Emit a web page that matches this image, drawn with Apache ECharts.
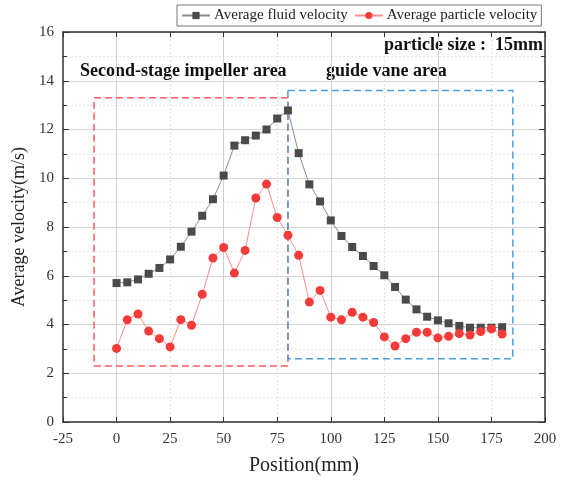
<!DOCTYPE html>
<html>
<head>
<meta charset="utf-8">
<script src="https://cdn.jsdelivr.net/npm/echarts@6/dist/echarts.min.js"></script>
<style>
  html, body { margin: 0; padding: 0; background: #fff; }
  #chart { width: 573px; height: 481px; }
</style>
</head>
<body>
<div id="chart"></div>
<script>
// Sampling positions along the flow passage (mm)
const positions = [0, 5, 10, 15, 20, 25, 30, 35, 40, 45, 50, 55, 60, 65, 70, 75, 80, 85, 90,
  95, 100, 105, 110, 115, 120, 125, 130, 135, 140, 145, 150, 155, 160, 165, 170, 175, 180];

// Average fluid velocity (m/s)
const fluidVelocity = [5.70, 5.73, 5.85, 6.08, 6.32, 6.67, 7.19, 7.81, 8.46, 9.14, 10.11, 11.34,
  11.56, 11.75, 12.00, 12.45, 12.78, 11.03, 9.75, 9.05, 8.27, 7.63, 7.18, 6.81, 6.40, 6.02,
  5.54, 5.02, 4.62, 4.32, 4.17, 4.05, 3.94, 3.87, 3.87, 3.87, 3.89];

// Average particle velocity (m/s)
const particleVelocity = [3.02, 4.19, 4.43, 3.73, 3.42, 3.08, 4.20, 3.97, 5.24, 6.73, 7.16, 6.11,
  7.04, 9.19, 9.76, 8.39, 7.66, 6.84, 4.92, 5.40, 4.30, 4.19, 4.50, 4.30, 4.08, 3.49, 3.12,
  3.42, 3.68, 3.68, 3.45, 3.52, 3.63, 3.57, 3.71, 3.82, 3.61];

// Region outlines: [xStart, yTop, xEnd, yBottom]
const impellerBox = [-10.5, 13.3, 80, 2.3];
const guideVaneBox = [80, 13.6, 185, 2.6];

// Solid grid lines at the major x positions
const majorX = [0, 50, 100, 150];

const serif = '"Liberation Serif", "Times New Roman", serif';
const frameColor = '#333';

const pair = (xs, ys) => xs.map((x, i) => [x, ys[i]]);

const chart = echarts.init(document.getElementById('chart'));

chart.setOption({
  backgroundColor: '#fff',
  animation: false,
  textStyle: { fontFamily: serif },
  grid: { left: 63, right: 28, top: 32, bottom: 58 },
  legend: {
    left: 177,
    top: 5,
    itemGap: 6,
    itemWidth: 28,
    itemHeight: 9,
    padding: [3, 4, 3, 4],
    borderColor: '#777',
    borderWidth: 1,
    borderRadius: 0,
    textStyle: { fontFamily: serif, fontSize: 15, color: '#222', padding: [0, 0, 0, -1] },
    data: ['Average fluid velocity', 'Average particle velocity']
  },
  xAxis: [
    {
      type: 'value',
      min: -25,
      max: 200,
      interval: 25,
      name: 'Position(mm)',
      nameLocation: 'middle',
      nameGap: 34,
      nameTextStyle: { fontFamily: serif, fontSize: 20, color: '#222' },
      axisLine: { show: true, onZero: false, lineStyle: { color: frameColor, width: 1.5 } },
      axisTick: { inside: true, length: 5, lineStyle: { color: frameColor } },
      axisLabel: { fontFamily: serif, fontSize: 15, color: '#333', margin: 10 },
      splitLine: { show: true, lineStyle: { color: '#e2e2e2', type: [2, 2], width: 1 } }
    },
    {
      type: 'value',
      position: 'top',
      min: -25,
      max: 200,
      interval: 25,
      axisLine: { show: true, onZero: false, lineStyle: { color: frameColor, width: 1.5 } },
      axisTick: { inside: true, length: 5, lineStyle: { color: frameColor } },
      axisLabel: { show: false },
      splitLine: { show: false }
    }
  ],
  yAxis: [
    {
      type: 'value',
      min: 0,
      max: 16,
      interval: 2,
      name: 'Average velocity(m/s)',
      nameLocation: 'middle',
      nameGap: 23,
      nameTextStyle: { fontFamily: serif, fontSize: 18, color: '#222' },
      axisLine: { show: true, onZero: false, lineStyle: { color: frameColor, width: 1.5 } },
      axisTick: { inside: true, length: 6, lineStyle: { color: frameColor } },
      minorTick: { show: true, splitNumber: 2, length: 4, lineStyle: { color: frameColor } },
      axisLabel: { fontFamily: serif, fontSize: 15, color: '#333', margin: 9 },
      splitLine: { show: true, lineStyle: { color: '#d6d6d6', width: 1 } },
      minorSplitLine: { show: true, lineStyle: { color: '#e6e6e6', type: [2, 2] } }
    },
    {
      type: 'value',
      position: 'right',
      min: 0,
      max: 16,
      interval: 2,
      axisLine: { show: true, onZero: false, lineStyle: { color: frameColor, width: 1.5 } },
      axisTick: { inside: true, length: 6, lineStyle: { color: frameColor } },
      minorTick: { show: true, splitNumber: 2, length: 4, lineStyle: { color: frameColor } },
      axisLabel: { show: false },
      splitLine: { show: false }
    }
  ],
  series: [
    {
      // background grid lines at the major positions
      name: 'grid',
      type: 'line',
      data: [],
      z: 0,
      silent: true,
      markLine: {
        z: 0,
        silent: true,
        symbol: 'none',
        label: { show: false },
        lineStyle: { color: '#d0d0d0', type: 'solid', width: 1 },
        data: majorX.map(v => ({ xAxis: v }))
      }
    },
    {
      name: 'Average fluid velocity',
      type: 'line',
      data: pair(positions, fluidVelocity),
      symbol: 'rect',
      symbolSize: 8,
      z: 4,
      itemStyle: { color: '#4a4a4a' },
      lineStyle: { color: '#8c8c8c', width: 1 },
      markArea: {
        silent: true,
        itemStyle: { color: 'transparent', borderColor: '#ff5a5a', borderWidth: 1.5, borderType: [7, 4] },
        data: [[
          { coord: [impellerBox[0], impellerBox[1]] },
          { coord: [impellerBox[2], impellerBox[3]] }
        ]]
      }
    },
    {
      name: 'Average particle velocity',
      type: 'line',
      data: pair(positions, particleVelocity),
      symbol: 'circle',
      symbolSize: 9,
      z: 5,
      itemStyle: { color: '#f53a3a' },
      lineStyle: { color: '#ff8c8c', width: 1 },
      markArea: {
        silent: true,
        itemStyle: { color: 'transparent', borderColor: '#4a9fdc', borderWidth: 1.5, borderType: [7, 4] },
        data: [[
          { coord: [guideVaneBox[0], guideVaneBox[1]] },
          { coord: [guideVaneBox[2], guideVaneBox[3]] }
        ]]
      }
    }
  ],
  graphic: [
    {
      type: 'text',
      right: 30,
      top: 36,
      style: { text: 'particle size :  15mm', font: 'bold 18px ' + serif, fill: '#111' }
    },
    {
      type: 'text',
      left: 80,
      top: 62,
      style: { text: 'Second-stage impeller area', font: 'bold 18px ' + serif, fill: '#111' }
    },
    {
      type: 'text',
      left: 326,
      top: 62,
      style: { text: 'guide vane area', font: 'bold 18px ' + serif, fill: '#111' }
    }
  ]
});
</script>
</body>
</html>
